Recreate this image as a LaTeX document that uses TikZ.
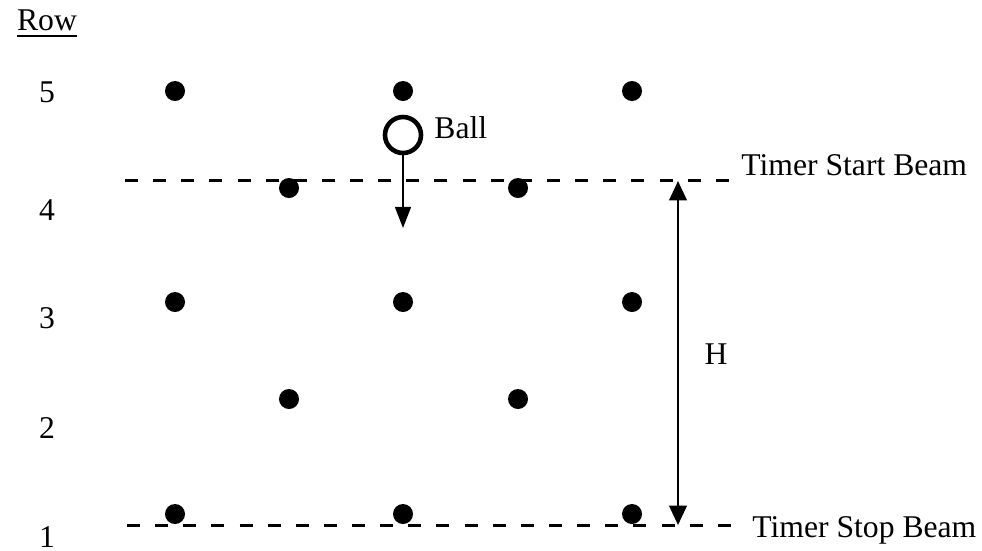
\documentclass[tikz,border=0pt]{standalone}
\usepackage{fontspec}
\setmainfont{Liberation Serif}
\usetikzlibrary{arrows.meta}
\begin{document}
\begin{tikzpicture}[x=0.01cm, y=-0.01cm, font=\fontsize{9}{11}\selectfont,
        peg/.style={circle, fill=black, inner sep=0pt, minimum size=0.2cm},
        beam/.style={line width=0.85pt, dash pattern=on 3.7pt off 4.3pt}]
    \useasboundingbox (0,0) rectangle (982,550);
    % row numbers
    \node (rowlabel) at (47,24) {\underline{Row}};
    \foreach \n/\y in {5/92, 4/210, 3/318, 2/428, 1/537}
        \node (row\n) at (47,\y) {\n};
    % pegs
    \foreach \x/\c in {175/a, 403/b, 632/c} {
        \node[peg] (p5\c) at (\x,91) {};
        \node[peg] (p3\c) at (\x,302) {};
        \node[peg] (p1\c) at (\x,514) {};
    }
    \foreach \x/\c in {289/a, 518/b} {
        \node[peg] (p4\c) at (\x,188) {};
        \node[peg] (p2\c) at (\x,399) {};
    }
    % ball
    \node[circle, draw, line width=1.3pt, inner sep=0pt, minimum size=0.36cm] (ball) at (403,135) {};
    \coordinate (balltip) at (403,228);
    \draw[line width=0.6pt, -{Triangle[length=6pt, width=4.5pt]}] (ball) -- (balltip);
    \node[anchor=west] (balltext) at (422,128) {Ball};
    % beams
    \coordinate (startL) at (125,180);
    \coordinate (startR) at (730,180);
    \draw[beam] (startL) -- (startR);
    \node[anchor=west] (starttext) at (729,165) {Timer Start Beam};
    \coordinate (stopL) at (127,525);
    \coordinate (stopR) at (735,525);
    \draw[beam] (stopL) -- (stopR);
    \node[anchor=west] (stoptext) at (740,530) {Timer Stop Beam};
    % height
    \coordinate (htop) at (678,181);
    \coordinate (hbot) at (678,525);
    \draw[line width=0.6pt, {Triangle[length=5.5pt, width=5pt]}-{Triangle[length=5.5pt, width=5pt]}] (htop) -- (hbot);
    \node (hlabel) at (716,354) {H};
\end{tikzpicture}
\end{document}
